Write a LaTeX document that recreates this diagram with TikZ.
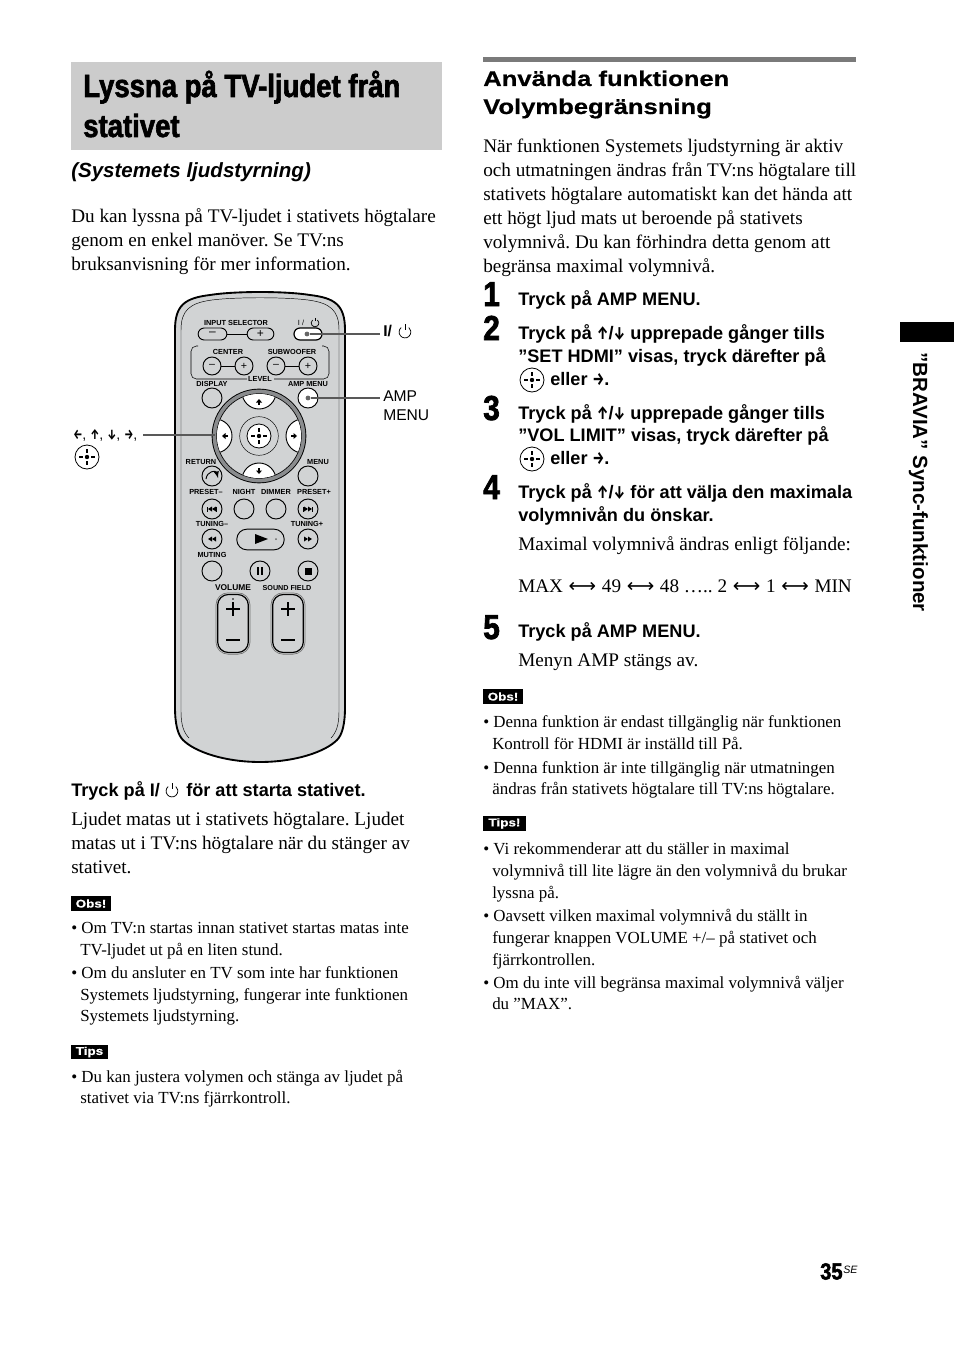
\documentclass[tikz,border=0pt]{standalone}
\usepackage{fontspec}
\usepackage{tikz}
\usepackage{xcolor}
\setmainfont{Liberation Serif}
\setsansfont{Liberation Sans}
\newfontfamily\titlefont[BoldFeatures={FakeStretch=0.86,FakeBold=2}]{Liberation Sans}
\newfontfamily\headfont[BoldFeatures={FakeStretch=1.2,FakeBold=0.5}]{Liberation Sans}
\newfontfamily\arrowfont[BoldFeatures={FakeStretch=0.72}]{Fira Sans}
\newfontfamily\lrfont{DejaVu Sans}
\definecolor{titlegray}{HTML}{CCCCCC}
\definecolor{remotegray}{HTML}{D1D3D4}
\definecolor{rulegray}{HTML}{7A7A7A}
\definecolor{ringgray}{HTML}{8A8C8E}
\frenchspacing
\newcommand{\lrarrow}{\hspace{0.65pt}{\lrfont ⟷}\hspace{0.65pt}}
\tikzset{
  bodytxt/.style={anchor=base west, inner sep=0pt, yshift=-0.75pt, font=\fontsize{14.4}{16}\selectfont},
  notetxt/.style={anchor=base west, inner sep=0pt, yshift=-0.4pt, font=\fontsize{12.7}{14}\selectfont},
  steptxt/.style={anchor=base west, inner sep=0pt, yshift=-0.5pt, font=\sffamily\bfseries\fontsize{13.6}{15}\selectfont},
  stepnum/.style={anchor=base west, inner sep=0pt, font=\titlefont\bfseries\fontsize{26}{28}\selectfont},
  titletxt/.style={anchor=base west, inner sep=0pt, font=\titlefont\bfseries\fontsize{24}{26}\selectfont},
  headtxt/.style={anchor=base west, inner sep=0pt, font=\headfont\bfseries\fontsize{16}{18}\selectfont},
  tagbox/.style={fill=black, text=white, inner sep=0pt, font=\headfont\bfseries\fontsize{8.4}{10}\selectfont},
  lbltxt/.style={anchor=base west, inner sep=0pt, font=\sffamily\fontsize{11.7}{14}\selectfont},
  keytxt/.style={inner sep=0pt, font=\sffamily\bfseries\fontsize{5.5}{6}\selectfont},
  keybtn/.style={circle, draw, fill=remotegray, line width=0.7pt, minimum size=15pt, inner sep=0pt, font=\sffamily\fontsize{8}{8}\selectfont},
  smallbtn/.style={keybtn, minimum size=13.5pt},
  pillbtn/.style={rounded corners=4.5pt, draw, fill=remotegray, line width=0.7pt, inner sep=0pt, font=\sffamily\fontsize{9}{9}\selectfont},
  longbtn/.style={rounded corners=8pt, draw, fill=remotegray, line width=0.9pt, inner sep=0pt},
  conn/.style={draw=black!65, line width=0.8pt},
  dotmark/.style={circle, fill=black!60, inner sep=0pt, minimum size=3.6pt},
  centerbtn/.pic={
    \draw[fill=white, line width=0.6pt] (0,0) circle [radius=12];
    \fill (0,0) circle [radius=2.2];
    \draw[line width=0.8pt] (-8,0) -- (-4,0) (4,0) -- (8,0) (0,-8) -- (0,-4) (0,4) -- (0,8);
  },
  powerpic/.pic={
    \draw[line width=0.55pt] (-3.8,-4.5) arc [start angle=230, end angle=-50, radius=5.9];
    \draw[line width=0.55pt] (0,-8) -- (0,-2.5);
  },
  dialarrow/.pic={
    \fill (-3,0.5) -- (0,-3) -- (3,0.5) -- cycle;
    \fill (-1,0) rectangle (1,3);
  },
  skipprev/.pic={
    \fill (-5,-2.5) rectangle (-4,2.5);
    \fill (0,-2.5) -- (-4,0) -- (0,2.5) -- cycle;
    \fill (4,-2.5) -- (0,0) -- (4,2.5) -- cycle;
    \fill (4,-2.5) rectangle (5,2.5);
  },
  skipnext/.pic={
    \fill (5,-2.5) rectangle (4,2.5);
    \fill (0,-2.5) -- (4,0) -- (0,2.5) -- cycle;
    \fill (-4,-2.5) -- (0,0) -- (-4,2.5) -- cycle;
    \fill (-4,-2.5) rectangle (-5,2.5);
  },
}
\begin{document}
\begin{tikzpicture}[x=0.75pt, y=-0.75pt]
\useasboundingbox (0,0) rectangle (954,1352);

% left column head
\fill[titlegray] (71,62) rectangle (442,150);
\node[titletxt] (title1) at (83,97) {Lyssna på TV-ljudet från};
\node[titletxt] (title2) at (83,137) {stativet};
\node[anchor=base west, inner sep=0pt, font=\sffamily\bfseries\itshape\fontsize{15.4}{18}\selectfont] (subtitle) at (71,177) {(Systemets ljudstyrning)};
\node[bodytxt] (intro1) at (71,221) {Du kan lyssna på TV-ljudet i stativets högtalare};
\node[bodytxt] (intro2) at (71,245) {genom en enkel manöver. Se TV:ns};
\node[bodytxt] (intro3) at (71,269) {bruksanvisning för mer information.};

% remote body
\draw[fill=remotegray, line width=1.4pt] (175,330) .. controls (175,305) and (185,298) .. (210,295) .. controls (235,291) and (285,291) .. (310,295) .. controls (335,298) and (345,305) .. (345,330) -- (345,707) .. controls (345,725) and (342,735) .. (337,740) .. controls (325,752) and (295,762) .. (260,762) .. controls (225,762) and (195,752) .. (183,740) .. controls (178,735) and (175,725) .. (175,707) -- cycle;
\draw[line width=0.35pt] (181,330) .. controls (181,310) and (190,303) .. (212,300) .. controls (235,297) and (285,297) .. (308,300) .. controls (330,303) and (339,310) .. (339,330) -- (339,712) .. controls (339,725) and (336,733) .. (331,738);
\draw[line width=0.35pt] (181,330) -- (181,712) .. controls (181,725) and (184,733) .. (189,738);

% top keys
\node[keytxt] (inputlbl) at (236,323) {INPUT SELECTOR};
\node[pillbtn, minimum width=21.5pt, minimum height=9pt] (inputminus) at (212.5,334) {–};
\node[pillbtn, minimum width=20pt, minimum height=9pt] (inputplus) at (260.5,334) {+};
\draw[line width=0.5pt] (inputminus) -- (inputplus);
\node[keytxt, font=\sffamily\fontsize{5.6}{6}\selectfont] (powerkey) at (301,323) {I /};
\pic at (315,323) [scale=0.65] {powerpic};
\node[pillbtn, fill=white, line width=0.9pt, minimum width=21pt, minimum height=9pt] (powerbtn) at (308,334) {};
\node[dotmark] (powerdot) at (307,334) {};
\coordinate (powerend) at (380,334);
\draw[conn] (powerdot) -- (powerend);
\node[lbltxt, font=\sffamily\bfseries\fontsize{11.7}{14}\selectfont] (powerlbl) at (383,336) {I/};
\pic at (405,332) {powerpic};

% level group
\draw[line width=0.4pt, rounded corners=4pt] (198,346) -- (191,346) -- (191,379) -- (247,379);
\draw[line width=0.4pt, rounded corners=4pt] (322,346) -- (329,346) -- (329,379) -- (274,379);
\node[keytxt] (centerlbl) at (228,352) {CENTER};
\node[keytxt] (sublbl) at (292,352) {SUBWOOFER};
\node[keytxt] (levellbl) at (260,379) {LEVEL};
\node[smallbtn] (centerminus) at (212,366) {–};
\node[smallbtn] (centerplus) at (244,366) {+};
\node[smallbtn] (subminus) at (276,366) {–};
\node[smallbtn] (subplus) at (308,366) {+};
\draw[line width=0.5pt] (centerminus) -- (centerplus);
\draw[line width=0.5pt] (subminus) -- (subplus);

% dial
\node[keytxt] (displaylbl) at (212,384) {DISPLAY};
\node[keytxt] (amplbl) at (308,384) {AMP MENU};
\node[keybtn] (displaybtn) at (212,398) {};
\node[keybtn, fill=white] (ampbtn) at (308,398) {};
\node[dotmark] (ampdot) at (308,398) {};
\coordinate (ampend) at (380,398);
\draw[conn] (ampdot) -- (ampend);
\node[lbltxt] (amplbl1) at (383,401) {AMP};
\node[lbltxt] (amplbl2) at (383,420) {MENU};
\node[circle, fill=black, inner sep=0pt, minimum size=71pt] (dialrim) at (259,436) {};
\node[circle, fill=ringgray, inner sep=0pt, minimum size=69.6pt] (dialring) at (259,436) {};
\node[circle, draw, fill=remotegray, line width=0.5pt, inner sep=0pt, minimum size=63.5pt] (dial) at (259,436) {};
\begin{scope}
\clip (259,436) circle [radius=42];
\draw[fill=white, line width=0.7pt] (259,392) circle [radius=17];
\draw[fill=white, line width=0.7pt] (259,480) circle [radius=17];
\draw[fill=white, line width=0.7pt] (215,436) circle [radius=17];
\draw[fill=white, line width=0.7pt] (303,436) circle [radius=17];
\end{scope}
\pic at (259,402) {dialarrow};
\pic at (259,471) [rotate=180] {dialarrow};
\pic at (225,436) [rotate=90] {dialarrow};
\pic at (294,436) [rotate=-90] {dialarrow};
\node[circle, draw, fill=remotegray, line width=0.35pt, inner sep=0pt, minimum size=29pt] (dialcenter) at (259,436) {};
\pic at (259,436) {centerbtn};
\coordinate (dialleft) at (215,435);
\coordinate (arrowend) at (143,435);
\draw[conn] (arrowend) -- (dialleft);
\node[lbltxt, font=\sffamily\fontsize{10.6}{12}\selectfont] (arrowlbl) at (73,439) {{\arrowfont\bfseries ←}, {\arrowfont\bfseries ↑}, {\arrowfont\bfseries ↓}, {\arrowfont\bfseries →},};
\pic at (87,457) {centerbtn};

% lower keys
\node[keytxt] (returnlbl) at (201,462) {RETURN};
\node[keytxt] (menulbl) at (318,462) {MENU};
\node[keybtn] (returnbtn) at (212,476) {};
\draw[line width=0.7pt, -latex] (206,479) .. controls (207,471) and (216,470) .. (218,478);
\node[keybtn] (menubtn) at (308,476) {};
\node[keytxt] (presetminus) at (206,492) {PRESET–};
\node[keytxt] (nightlbl) at (244,492) {NIGHT};
\node[keytxt] (dimmerlbl) at (276,492) {DIMMER};
\node[keytxt] (presetplus) at (314,492) {PRESET+};
\node[keybtn] (prevbtn) at (212,509) {};
\node[keybtn] (nightbtn) at (244,509) {};
\node[keybtn] (dimmerbtn) at (276,509) {};
\node[keybtn] (nextbtn) at (308,509) {};
\pic at (212,509) {skipprev};
\pic at (308,509) {skipnext};
\node[keytxt] (tuneminus) at (212,524) {TUNING–};
\node[keytxt] (tuneplus) at (307,524) {TUNING+};
\node[keybtn] (rewbtn) at (212,539) {};
\node[keybtn] (ffbtn) at (308,539) {};
\fill (212,536.5) -- (208,539) -- (212,541.5) -- cycle;
\fill (216,536.5) -- (212,539) -- (216,541.5) -- cycle;
\fill (304,536.5) -- (308,539) -- (304,541.5) -- cycle;
\fill (308,536.5) -- (312,539) -- (308,541.5) -- cycle;
\node[pillbtn, rounded corners=7.5pt, minimum width=35.5pt, minimum height=15.5pt] (playbtn) at (260.5,539.5) {};
\fill (255,534) -- (268,539) -- (255,544) -- cycle;
\fill[black!60] (276,539) circle [radius=1];
\node[keytxt] (mutinglbl) at (212,555) {MUTING};
\node[keybtn] (mutebtn) at (212,571) {};
\node[keybtn] (pausebtn) at (260,571) {};
\node[keybtn] (stopbtn) at (308,571) {};
\fill (257,567) rectangle (259,575);
\fill (261,567) rectangle (263,575);
\fill (304.5,567.5) rectangle (311.5,574.5);

% volume keys
\node[keytxt, font=\sffamily\bfseries\fontsize{6.3}{7}\selectfont] (volumelbl) at (233,588) {VOLUME};
\node[keytxt, font=\sffamily\bfseries\fontsize{5.4}{6}\selectfont] (fieldlbl) at (287,588) {SOUND FIELD};
\node[longbtn, draw=black!55, line width=0.5pt, minimum width=25.5pt, minimum height=46pt, rounded corners=9pt] (volouter) at (233,623.5) {};
\node[longbtn, minimum width=23pt, minimum height=43.5pt] (volbtn) at (233,623.5) {};
\node[longbtn, draw=black!55, line width=0.5pt, minimum width=25.5pt, minimum height=46pt, rounded corners=9pt] (fieldouter) at (288,623.5) {};
\node[longbtn, minimum width=23pt, minimum height=43.5pt] (fieldbtn) at (288,623.5) {};
\draw[line width=0.9pt] (226,609) -- (240,609) (233,602) -- (233,616) (226,640) -- (240,640);
\draw[line width=0.9pt] (281,609) -- (295,609) (288,602) -- (288,616) (281,640) -- (295,640);
\fill (233,599) circle [radius=0.8];

% left column text
\node[steptxt] (start1) at (71,796) {Tryck på I/};
\node[steptxt] (start2) at (186,796) {för att starta stativet.};
\pic at (172,791) {powerpic};
\node[bodytxt] (res1) at (71,824) {Ljudet matas ut i stativets högtalare. Ljudet};
\node[bodytxt] (res2) at (71,848) {matas ut i TV:ns högtalare när du stänger av};
\node[bodytxt] (res3) at (71,872) {stativet.};
\node[tagbox, minimum width=30pt, minimum height=11.2pt] (obsleft) at (91,903.5) {Obs!};
\node[notetxt] (noteA1) at (71,933) {• Om TV:n startas innan stativet startas matas inte};
\node[notetxt] (noteA2) at (80,955) {TV-ljudet ut på en liten stund.};
\node[notetxt] (noteB1) at (71,978) {• Om du ansluter en TV som inte har funktionen};
\node[notetxt] (noteB2) at (80,1000) {Systemets ljudstyrning, fungerar inte funktionen};
\node[notetxt] (noteB3) at (80,1021) {Systemets ljudstyrning.};
\node[tagbox, minimum width=27.8pt, minimum height=11pt] (tipsleft) at (89.5,1052) {Tips};
\node[notetxt] (tipA1) at (71,1082) {• Du kan justera volymen och stänga av ljudet på};
\node[notetxt] (tipA2) at (80,1103) {stativet via TV:ns fjärrkontroll.};

% right column
\fill[rulegray] (483,57) rectangle (856,62);
\node[headtxt] (head1) at (483,86) {Använda funktionen};
\node[headtxt] (head2) at (483,114) {Volymbegränsning};
\node[bodytxt] (para1) at (483,151) {När funktionen Systemets ljudstyrning är aktiv};
\node[bodytxt] (para2) at (483,175) {och utmatningen ändras från TV:ns högtalare till};
\node[bodytxt] (para3) at (483,199) {stativets högtalare automatiskt kan det hända att};
\node[bodytxt] (para4) at (483,223) {ett högt ljud mats ut beroende på stativets};
\node[bodytxt] (para5) at (483,247) {volymnivå. Du kan förhindra detta genom att};
\node[bodytxt] (para6) at (483,271) {begränsa maximal volymnivå.};

\node[stepnum] (num1) at (483,306) {1};
\node[steptxt] (one1) at (518,305) {Tryck på AMP MENU.};
\node[stepnum] (num2) at (483,340) {2};
\node[steptxt] (two1) at (518,339) {Tryck på {\arrowfont ↑}/{\arrowfont ↓} upprepade gånger tills};
\node[steptxt] (two2) at (518,362) {”SET HDMI” visas, tryck därefter på};
\pic at (532,380) {centerbtn};
\node[steptxt] (two3) at (550,385) {eller {\arrowfont →}.};
\node[stepnum] (num3) at (483,420) {3};
\node[steptxt] (three1) at (518,419) {Tryck på {\arrowfont ↑}/{\arrowfont ↓} upprepade gånger tills};
\node[steptxt] (three2) at (518,441) {”VOL LIMIT” visas, tryck därefter på};
\pic at (532,459) {centerbtn};
\node[steptxt] (three3) at (550,464) {eller {\arrowfont →}.};
\node[stepnum] (num4) at (483,499) {4};
\node[steptxt] (four1) at (518,498) {Tryck på {\arrowfont ↑}/{\arrowfont ↓} för att välja den maximala};
\node[steptxt] (four2) at (518,521) {volymnivån du önskar.};
\node[bodytxt] (four3) at (518,549) {Maximal volymnivå ändras enligt följande:};
\node[bodytxt] (four4) at (518,591) {MAX \lrarrow{} 49 \lrarrow{} 48 ….. 2 \lrarrow{} 1 \lrarrow{} MIN};
\node[stepnum] (num5) at (483,639) {5};
\node[steptxt] (five1) at (518,637) {Tryck på AMP MENU.};
\node[bodytxt] (five2) at (518,665) {Menyn AMP stängs av.};

\node[tagbox, minimum width=30pt, minimum height=11.2pt] (obsright) at (503,696.5) {Obs!};
\node[notetxt] (noteC1) at (483,727) {• Denna funktion är endast tillgänglig när funktionen};
\node[notetxt] (noteC2) at (492,749) {Kontroll för HDMI är inställd till På.};
\node[notetxt] (noteD1) at (483,773) {• Denna funktion är inte tillgänglig när utmatningen};
\node[notetxt] (noteD2) at (492,794) {ändras från stativets högtalare till TV:ns högtalare.};
\node[tagbox, minimum width=32pt, minimum height=11.2pt] (tipsright) at (504.5,823.5) {Tips!};
\node[notetxt] (tipB1) at (483,854) {• Vi rekommenderar att du ställer in maximal};
\node[notetxt] (tipB2) at (492,876) {volymnivå till lite lägre än den volymnivå du brukar};
\node[notetxt] (tipB3) at (492,898) {lyssna på.};
\node[notetxt] (tipC1) at (483,921) {• Oavsett vilken maximal volymnivå du ställt in};
\node[notetxt] (tipC2) at (492,943) {fungerar knappen VOLUME +/– på stativet och};
\node[notetxt] (tipC3) at (492,965) {fjärrkontrollen.};
\node[notetxt] (tipD1) at (483,988) {• Om du inte vill begränsa maximal volymnivå väljer};
\node[notetxt] (tipD2) at (492,1009) {du ”MAX”.};

% side tab and page number
\fill[black] (900,322) rectangle (954,342);
\node[rotate=-90, anchor=base west, inner sep=0pt, font=\sffamily\bfseries\fontsize{15.4}{17}\selectfont] (sidetxt) at (913,352) {”BRAVIA” Sync-funktioner};
\node[anchor=base west, inner sep=0pt, font=\titlefont\bfseries\fontsize{17.5}{20}\selectfont] (pagenum) at (820,1279.5) {35};
\node[anchor=base west, inner sep=0pt, font=\sffamily\itshape\fontsize{8}{9}\selectfont] (pagesuf) at (843,1273) {SE};
\end{tikzpicture}
\end{document}
